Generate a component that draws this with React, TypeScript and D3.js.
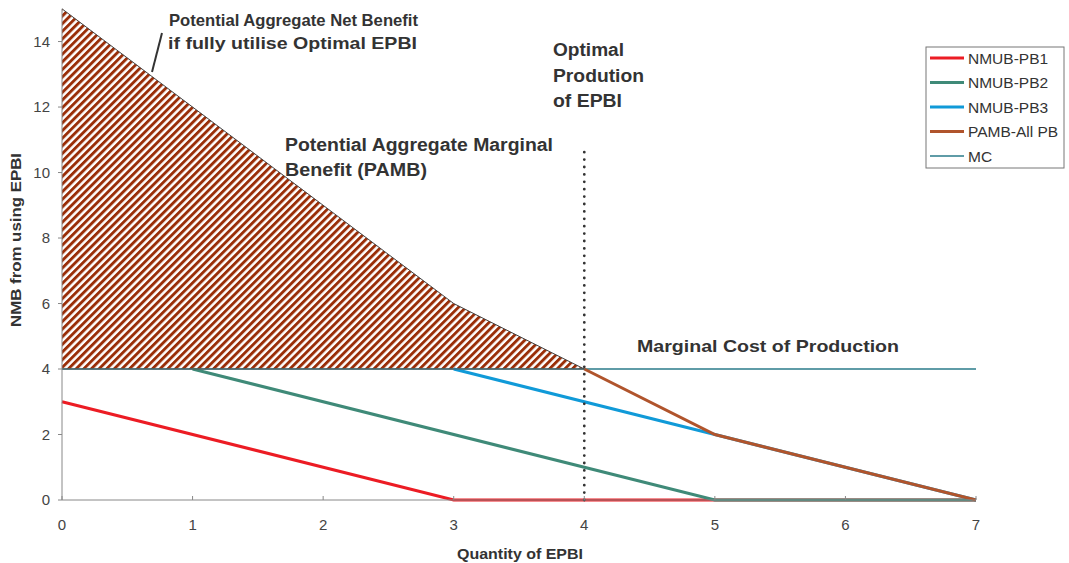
import React from "react";
import * as d3 from "d3";

type P = [number, number];
const pb1: P[] = [[0, 3], [3, 0], [7, 0]];
const pb2: P[] = [[1, 4], [5, 0], [7, 0]];
const pb3: P[] = [[3, 4], [5, 2], [7, 0]];
const pamb: P[] = [[4, 4], [5, 2], [7, 0]];
const mc: P[] = [[0, 4], [7, 4]];
const netBenefit: P[] = [[0, 15], [3, 6], [4, 4], [0, 4]];
const optimalX = 4;
const optimalTop = 10.75;
const xTicks = [0, 1, 2, 3, 4, 5, 6, 7];
const yTicks = [0, 2, 4, 6, 8, 10, 12, 14];
const seriesNames = ["NMUB-PB1", "NMUB-PB2", "NMUB-PB3", "PAMB-All PB", "MC"];
const seriesColors = ["#ec1c24", "#3f8a78", "#109ad8", "#b0542c", "#2a7b8a"];
const seriesWidths = [3, 3, 3, 3, 1.5];

export default function App() {
  const W = 1069, H = 563;
  const x = d3.scaleLinear().domain([0, 7]).range([62, 976]);
  const y = d3.scaleLinear().domain([0, 15]).range([500, 8.8]);
  const line = d3.line<P>().x(d => x(d[0])).y(d => y(d[1]));
  const series = [pb1, pb2, pb3, pamb, mc];
  const order = [4, 0, 1, 2, 3];
  const font = "Arial, 'Liberation Sans', sans-serif";
  const txt = "#333";
  const axisC = "#888";
  const ann = (s: string, xx: number, yy: number, len: number, fs: number) => (
    <text x={xx} y={yy} fontSize={fs} fontWeight="bold" fill={txt} textLength={len} lengthAdjust="spacingAndGlyphs">{s}</text>
  );
  return (
    <svg width={W} height={H} style={{ position: "absolute", left: 0, top: 0 }} fontFamily={font}>
      <defs>
        <pattern id="hatch" width="5.4" height="5.4" patternUnits="userSpaceOnUse" patternTransform="rotate(45)">
          <rect width="5.4" height="5.4" fill="#fff" />
          <rect x="0" y="0" width="2.9" height="5.4" fill="#9a2e08" />
        </pattern>
      </defs>
      <rect width={W} height={H} fill="#fff" />
      <path d={line(netBenefit) + "Z"} fill="url(#hatch)" stroke="none" />
      {order.map(i => (
        <path key={i} d={line(series[i]) || ""} fill="none" stroke={seriesColors[i]} strokeWidth={seriesWidths[i]} />
      ))}
      <path d={line(netBenefit.slice(0, 3)) || ""} fill="none" stroke="#444" strokeWidth={1} />
      <path d={line([[0, 4], [4, 4]]) || ""} fill="none" stroke="#555" strokeWidth={1} />
      <line x1={x(optimalX)} x2={x(optimalX)} y1={y(0)} y2={y(optimalTop)} stroke="#333" strokeWidth={2.8} strokeDasharray="0 7.4" strokeLinecap="round" />
      {/* axes */}
      <line x1={x(0)} x2={x(0)} y1={y(0)} y2={y(15)} stroke={axisC} strokeWidth={1} />
      <line x1={x(0)} x2={x(7)} y1={y(0)} y2={y(0)} stroke={axisC} strokeWidth={1} />
      {yTicks.map(t => (
        <g key={t}>
          <line x1={x(0) - 4} x2={x(0)} y1={y(t)} y2={y(t)} stroke={axisC} />
          <text x={50} y={y(t)} dy="0.36em" textAnchor="end" fontSize={15} fill="#444">{t}</text>
        </g>
      ))}
      {xTicks.map(t => (
        <g key={t}>
          <line x1={x(t)} x2={x(t)} y1={y(0)} y2={y(0) - 4} stroke={axisC} />
          <text x={x(t)} y={530} textAnchor="middle" fontSize={15} fill="#444">{t}</text>
        </g>
      ))}
      <text x={520} y={559} textAnchor="middle" fontSize={14.5} fontWeight="bold" fill={txt} textLength={126} lengthAdjust="spacingAndGlyphs">Quantity of EPBI</text>
      <text transform={`translate(21,240) rotate(-90)`} textAnchor="middle" fontSize={14.5} fontWeight="bold" fill={txt} textLength={174} lengthAdjust="spacingAndGlyphs">NMB from using EPBI</text>
      {/* annotations */}
      <line x1={162} y1={33} x2={152} y2={72} stroke="#333" strokeWidth={2} />
      {ann("Potential Aggregate Net Benefit", 169, 25.5, 249, 16.5)}
      {ann("if fully utilise Optimal EPBI", 168, 49, 249, 16.5)}
      {ann("Optimal", 553, 56, 71, 17.5)}
      {ann("Prodution", 553, 82, 91, 17.5)}
      {ann("of EPBI", 553, 107, 69, 17.5)}
      {ann("Potential Aggregate Marginal", 285, 150.5, 268, 17.5)}
      {ann("Benefit (PAMB)", 285, 176, 142, 17.5)}
      {ann("Marginal Cost of Production", 637, 352, 262, 17)}
      {/* legend */}
      <rect x={926} y={47} width={138} height={121} fill="#fff" stroke="#777" strokeWidth={1} />
      {seriesNames.map((n, i) => (
        <g key={n} transform={`translate(930,${58 + i * 24.5})`}>
          <line x1={0} x2={34} y1={0} y2={0} stroke={seriesColors[i]} strokeWidth={seriesWidths[i]} />
          <text x={38} y={0} dy="0.36em" fontSize={15.5} fill="#333">{n}</text>
        </g>
      ))}
    </svg>
  );
}
